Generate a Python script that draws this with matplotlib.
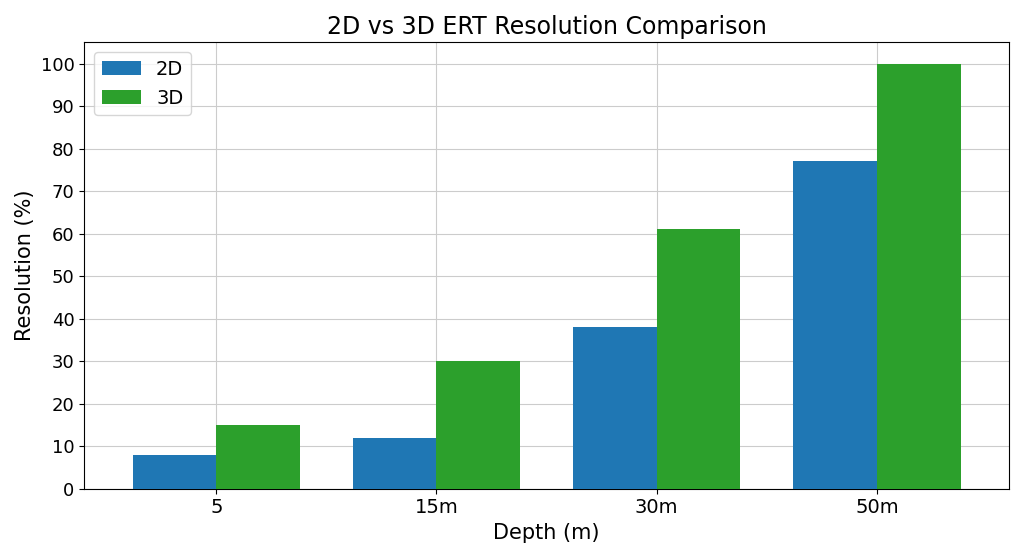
import numpy as np
import matplotlib.pyplot as plt

depths = ["5", "15m", "30m", "50m"]
res_2d = [8, 12, 38, 77]
res_3d = [15, 30, 61, 100]

x = np.arange(len(depths))
w = 0.38

fig, ax = plt.subplots(figsize=(10.24, 5.58), dpi=100)
ax.bar(x - w / 2, res_2d, w, color="#1f77b4", label="2D", zorder=3)
ax.bar(x + w / 2, res_3d, w, color="#2ca02c", label="3D", zorder=3)

ax.set_xticks(x)
ax.set_xticklabels(depths, fontsize=14)
ax.set_yticks(range(0, 101, 10))
ax.tick_params(axis="y", labelsize=13)
ax.set_ylim(0, 105)
ax.set_xlim(-0.6, 3.6)
ax.grid(True, color="#cccccc", zorder=0)
ax.set_xlabel("Depth (m)", fontsize=15)
ax.set_ylabel("Resolution (%)", fontsize=15)
ax.set_title("2D vs 3D ERT Resolution Comparison", fontsize=17)
ax.legend(loc="upper left", fontsize=14)

plt.tight_layout()
plt.savefig("out.png")
